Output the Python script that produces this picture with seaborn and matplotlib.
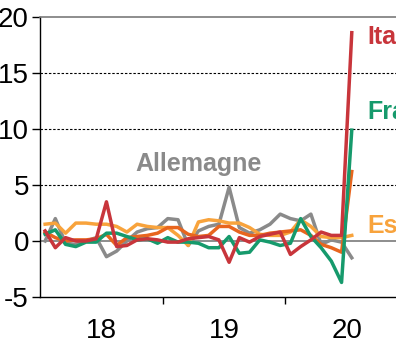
import numpy as np
import pandas as pd
import matplotlib
matplotlib.use("Agg")
import matplotlib.pyplot as plt
import seaborn as sns

months = list(range(31))  # Jan 2018 .. Jul 2020
allemagne = [0.0, 2.0, -0.2, -0.3, 0.0, 0.3, -1.4, -0.9, 0.0, 0.8, 1.1, 1.2, 2.0, 1.9, -0.4,
             0.9, 1.3, 1.5, 4.8, 1.2, 0.7, 1.0, 1.5, 2.4, 2.0, 1.8, 2.4, -0.3, 0.1, -0.1, -1.5]
espagne = [1.5, 1.6, 0.7, 1.6, 1.6, 1.5, 1.5, 1.3, 0.8, 1.5, 1.3, 1.2, 1.2, 0.5, -0.4,
           1.7, 1.9, 1.8, 1.6, 1.6, 1.2, 0.6, 0.5, 0.5, 0.8, 1.9, 1.3, 0.4, 0.3, 0.3, 0.5]
zone_euro = [0.8, 0.3, 0.0, 0.1, 0.1, 0.2, 0.6, -0.4, 0.3, 0.4, 0.5, 0.7, 1.2, 1.2, 0.6,
             0.4, 0.5, 1.3, 1.3, 0.8, 0.5, 0.5, 0.7, 0.8, 0.9, 1.0, 0.5, -0.3, -0.6, -1.0, 6.2]
france = [0.6, 1.0, -0.3, -0.5, -0.1, -0.1, 0.7, 0.7, 0.4, 0.1, 0.2, -0.2, 0.3, -0.1, -0.1,
          -0.2, -0.6, -0.6, 0.4, -1.1, -1.0, 0.1, -0.1, -0.4, -0.2, 2.0, 0.4, -0.6, -1.8, -3.7, 9.9]
italie = [0.9, -0.6, 0.3, 0.0, 0.0, 0.2, 3.5, -0.5, -0.4, 0.1, 0.2, 0.1, -0.1, -0.1, 0.2,
          0.3, 0.4, 0.1, -1.9, 0.3, -0.1, 0.4, 0.6, 0.8, -1.2, -0.5, 0.1, 0.8, 0.5, 0.5, 18.6]

series_names = ["Allemagne", "Espagne", "Zone euro", "France", "Italie"]
colors = {"Allemagne": "#8a8a8a", "Espagne": "#f8a33c", "Zone euro": "#e8651e",
          "France": "#169a6c", "Italie": "#c8353b"}
year_labels = ["18", "19", "20"]
y_ticks = [-5, 0, 5, 10, 15, 20]

df = pd.DataFrame({
    "mois": months * 5,
    "valeur": allemagne + espagne + zone_euro + france + italie,
    "pays": sum([[n] * len(months) for n in series_names], []),
})

fig = plt.figure(figsize=(3.96, 3.40), dpi=100)
ax = fig.add_axes([40 / 396, 1 - 297 / 340, 368 / 396, 280 / 340])

sns.lineplot(data=df, x="mois", y="valeur", hue="pays", hue_order=series_names,
             palette=colors, linewidth=2.5, legend=False, ax=ax)

ax.set_xlim(-0.5, 35.5)
ax.set_ylim(-5, 20)
ax.set_xlabel("")
ax.set_ylabel("")

for v in [5, 10, 15]:
    ax.axhline(v, color="black", lw=0.8, ls=(0, (2.2, 1.6)), zorder=0)
ax.axhline(0, color="#7a7a7a", lw=1.2, zorder=0)

ax.spines["right"].set_visible(False)
ax.spines["top"].set_color("#7a7a7a")
ax.spines["top"].set_linewidth(1.2)
ax.spines["left"].set_color("black")
ax.spines["bottom"].set_color("black")
ax.spines["left"].set_linewidth(1.0)
ax.spines["bottom"].set_linewidth(1.0)

tick_font = dict(family=["Liberation Sans", "DejaVu Sans"], size=20)
ax.set_yticks(y_ticks)
ax.set_yticklabels([str(t) for t in y_ticks], fontdict=tick_font)
ax.tick_params(axis="y", direction="out", length=6, width=1, pad=2, colors="black")

ax.set_xticks([11.5, 23.5])
ax.set_xticklabels([])
ax.tick_params(axis="x", which="major", direction="out", length=5, width=1)
ax.set_xticks([5.5, 17.5, 29.5], minor=True)
ax.set_xticklabels(year_labels, minor=True, fontdict=tick_font)
ax.tick_params(axis="x", which="minor", length=0, pad=15)

lab_font = dict(family=["Liberation Sans", "DejaVu Sans"], size=18, weight="bold")
ax.text(8.8, 6.9, "Allemagne", color=colors["Allemagne"], va="center", ha="left", **lab_font)
ax.text(31.5, 18.2, "Italie", color=colors["Italie"], va="center", ha="left", **lab_font)
ax.text(31.5, 11.5, "France", color=colors["France"], va="center", ha="left", **lab_font)
ax.text(31.5, 1.3, "Espagne", color=colors["Espagne"], va="center", ha="left", **lab_font)

fig.savefig("out.png", dpi=100)
